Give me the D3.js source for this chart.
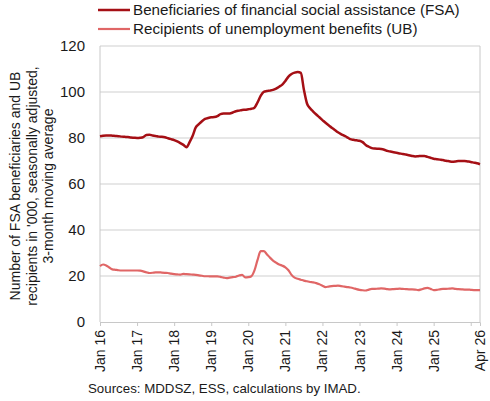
<!DOCTYPE html>
<html lang="en">
<head>
	<meta charset="UTF-8"/>
	<title>FSA and UB recipients</title>
	<script src="https://d3js.org/d3.v7.min.js"></script>
	<style>
		body { margin:0; background:#fff; }
		text { font-family:"Liberation Sans", Arial, sans-serif; fill:#1a1a1a; }
	</style>
</head>
<body>
<script>
	var w = 490;
	var h = 401;

	// monthly values, Jan 2016 - Apr 2026, in '000
	var startYear = 2016;
	var fsa = [
		80.8, 81.0, 81.1, 81.1, 81.0, 80.9, 80.8, 80.6, 80.5, 80.4, 80.2, 80.1,
		80.0, 80.1, 80.4, 81.3, 81.4, 81.1, 80.9, 80.6, 80.5, 80.3, 79.9, 79.5,
		79.1, 78.5, 77.8, 77.0, 76.0, 78.2, 81.0, 84.6, 86.0, 87.3, 88.3, 88.7,
		89.0, 89.1, 89.5, 90.4, 90.6, 90.6, 90.7, 91.1, 91.6, 91.9, 92.2, 92.3,
		92.5, 92.7, 93.2, 95.5, 98.3, 100.1, 100.4, 100.6, 100.9, 101.5, 102.3, 103.2,
		104.8, 106.7, 107.8, 108.4, 108.7, 108.3, 101.0, 95.0, 92.9, 91.5, 90.2, 89.0,
		87.8, 86.6, 85.5, 84.5, 83.5, 82.5, 81.7, 81.0, 80.3, 79.5, 79.2, 79.0,
		78.8, 78.2, 77.0, 76.2, 75.6, 75.4, 75.3, 75.2, 74.9, 74.4, 74.1, 73.8,
		73.6, 73.3, 73.0, 72.8, 72.5, 72.2, 72.0, 72.1, 72.2, 72.2, 71.8, 71.4,
		71.0, 70.8, 70.6, 70.4, 70.1, 69.9, 69.7, 69.8, 70.0, 70.0, 70.0, 69.8,
		69.6, 69.3, 69.0, 68.6
	];
	var ub = [
		24.3, 25.0, 24.6, 23.7, 22.9, 22.7, 22.5, 22.4, 22.4, 22.4, 22.4, 22.4,
		22.4, 22.3, 22.0, 21.6, 21.3, 21.4, 21.6, 21.6, 21.5, 21.4, 21.3, 21.0,
		20.8, 20.7, 20.6, 20.9, 20.8, 20.7, 20.6, 20.5, 20.3, 20.1, 19.9, 19.9,
		19.8, 19.8, 19.8, 19.6, 19.3, 19.1, 19.3, 19.5, 19.7, 20.2, 20.5, 19.4,
		19.5, 19.9, 22.4, 27.0, 30.8, 30.8, 29.5, 28.0, 26.7, 25.8, 25.0, 24.5,
		23.8, 22.5, 20.5, 19.3, 18.8, 18.4, 18.0, 17.7, 17.4, 17.2, 16.9, 16.4,
		15.8, 15.2, 15.4, 15.6, 15.7, 15.8, 15.6, 15.4, 15.2, 15.0, 14.7, 14.3,
		14.0, 13.8, 13.7, 14.1, 14.4, 14.4, 14.5, 14.6, 14.5, 14.3, 14.2, 14.3,
		14.4, 14.5, 14.4, 14.3, 14.2, 14.2, 14.1, 13.9, 14.2, 14.6, 14.8, 14.4,
		13.9, 14.0, 14.2, 14.4, 14.4, 14.5, 14.6, 14.4, 14.3, 14.2, 14.1, 14.1,
		14.0, 13.9, 13.9, 13.9
	];
	var seriesNames = ["Beneficiaries of financial social assistance (FSA)", "Recipients of unemployment benefits (UB)"];
	var seriesColors = ["#a50f15", "#e06666"];
	var yTicks = [0, 20, 40, 60, 80, 100, 120];
	var monthNames = ["Jan","Feb","Mar","Apr","May","Jun","Jul","Aug","Sep","Oct","Nov","Dec"];

	var n = fsa.length;
	var label = function(i){
		return monthNames[i % 12] + " " + String(startYear + Math.floor(i / 12)).slice(2);
	};

	// plot box (don't call it "top", that's window.top)
	var pLeft = 100, pRight = 480, pTop = 46, pBottom = 322;

	var xScale = d3.scaleLinear()
				.domain([0, n - 1])
				.range([pLeft, pRight]);

	var yScale = d3.scaleLinear()
				.domain([0, 120])
				.range([pBottom, pTop]);

	var svg = d3.select("body")
				.append("svg")
				.attr("width", w)
				.attr("height", h);

	//-------gridlines---------
	svg.selectAll("line.grid")
		.data(yTicks.filter(function(d){ return d > 0; }))
		.enter()
		.append("line")
		.attr("class", "grid")
		.attr("x1", pLeft)
		.attr("x2", pRight)
		.attr("y1", function(d){ return yScale(d); })
		.attr("y2", function(d){ return yScale(d); })
		.attr("stroke", "#cfcfcf")
		.attr("stroke-width", 1);

	// left and right frame lines
	svg.selectAll("line.frame")
		.data([pLeft, pRight])
		.enter()
		.append("line")
		.attr("class", "frame")
		.attr("x1", function(d){ return d; })
		.attr("x2", function(d){ return d; })
		.attr("y1", pTop)
		.attr("y2", pBottom)
		.attr("stroke", "#c8c8c8")
		.attr("stroke-width", 1);

	//-------y axis labels---------
	svg.selectAll("text.ytick")
		.data(yTicks)
		.enter()
		.append("text")
		.attr("class", "ytick")
		.attr("x", 85)
		.attr("y", function(d){ return yScale(d) + 5; })
		.attr("text-anchor", "end")
		.style("font-size", "15px")
		.text(function(d){ return d; });

	//-------x axis---------
	var tickIdx = d3.range(0, n, 12);
	var xAxis = d3.axisBottom(xScale)
				.tickValues(tickIdx)
				.tickSize(4)
				.tickFormat("");
	var gx = svg.append("g")
				.attr("transform", "translate(0," + pBottom + ")")
				.call(xAxis);
	gx.select(".domain").attr("stroke", "#c8c8c8");
	gx.selectAll(".tick line").attr("stroke", "#c8c8c8");

	var labelIdx = d3.range(0, n - 4, 12).concat([n - 1]);
	svg.selectAll("text.xlab")
		.data(labelIdx)
		.enter()
		.append("text")
		.attr("class", "xlab")
		.attr("transform", function(d){
			return "translate(" + (xScale(d) + 5) + "," + (pBottom + 8) + ") rotate(-90)";
		})
		.attr("text-anchor", "end")
		.style("font-size", "14px")
		.text(function(d){ return label(d); });

	//-------lines---------
	var line = d3.line()
				.x(function(d, i){ return xScale(i); })
				.y(function(d){ return yScale(d); })
				.curve(d3.curveMonotoneX);

	svg.append("path")
		.datum(ub)
		.attr("d", line)
		.attr("fill", "none")
		.attr("stroke", seriesColors[1])
		.attr("stroke-width", 2.2);

	svg.append("path")
		.datum(fsa)
		.attr("d", line)
		.attr("fill", "none")
		.attr("stroke", seriesColors[0])
		.attr("stroke-width", 2.5);

	//-------legend---------
	var legend = svg.selectAll("g.legend")
		.data(seriesNames)
		.enter()
		.append("g")
		.attr("class", "legend")
		.attr("transform", function(d, i){ return "translate(98," + (10 + i * 19) + ")"; });

	legend.append("line")
		.attr("x1", 0)
		.attr("x2", 32)
		.attr("stroke", function(d, i){ return seriesColors[i]; })
		.attr("stroke-width", function(d, i){ return i == 0 ? 2.5 : 2.2; });

	legend.append("text")
		.attr("x", 35)
		.attr("y", 5)
		.style("font-size", "15.2px")
		.text(function(d){ return d; });

	//-------y title---------
	var titleLines = ["Number of FSA beneficiaries and UB", "recipients in '000, seasonally adjusted,", "3-month moving average"];
	svg.selectAll("text.ytitle")
		.data(titleLines)
		.enter()
		.append("text")
		.attr("class", "ytitle")
		.attr("transform", function(d, i){
			return "translate(" + (20 + i * 16.5) + ",186) rotate(-90)";
		})
		.attr("text-anchor", "middle")
		.style("font-size", "14px")
		.text(function(d){ return d; });

	//-------source---------
	svg.append("text")
		.attr("x", 88)
		.attr("y", 393)
		.style("font-size", "13.3px")
		.text("Sources: MDDSZ, ESS, calculations by IMAD.");
</script>
</body>
</html>
